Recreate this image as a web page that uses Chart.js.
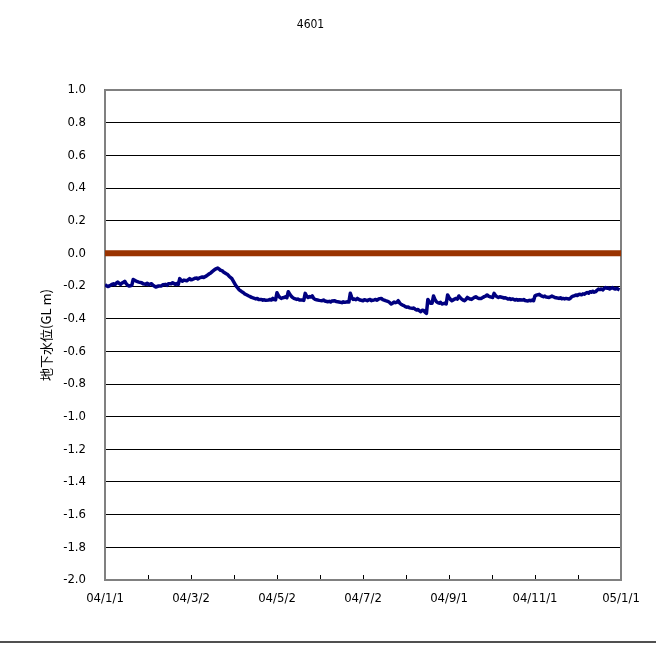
<!DOCTYPE html>
<html>
<head>
<meta charset="utf-8">
<script src="https://cdn.jsdelivr.net/npm/chart.js@4/dist/chart.umd.min.js"></script>
<style>
  html, body { margin: 0; padding: 0; background: #ffffff; }
  #wrap { width: 656px; height: 652px; }
</style>
</head>
<body>
<div id="wrap"><canvas id="c" width="656" height="652"></canvas></div>
<script>
// Well 4601 – groundwater level below ground surface, 2004
const chartTitle = '4601';
const yAxisTitle = '地下水位(GL m)';

// days counted from 2004-01-01
const obsDays = [
  0, 1, 2, 3, 4, 5, 6, 7, 8, 9,
  10, 11, 12, 13, 14, 15, 16, 17, 18, 19,
  20, 21, 22, 24, 26, 27, 29, 30, 31, 33,
  34, 36, 38, 40, 41, 43, 44, 45, 47, 48,
  50, 51, 52, 53, 54, 55, 56, 58, 60, 61,
  62, 64, 65, 66, 67, 69, 70, 72, 74, 75,
  76, 78, 79, 80, 81, 82, 83, 84, 86, 87,
  88, 90, 91, 92, 93, 94, 95, 97, 98, 99,
  100, 102, 103, 104, 106, 107, 108, 109, 111, 112,
  113, 114, 116, 117, 118, 119, 120, 121, 122, 123,
  124, 125, 126, 127, 128, 129, 130, 131, 132, 133,
  134, 136, 137, 138, 140, 141, 142, 143, 144, 145,
  146, 147, 148, 149, 150, 152, 154, 155, 156, 158,
  159, 160, 161, 163, 164, 166, 168, 169, 170, 172,
  173, 174, 175, 176, 177, 178, 179, 180, 181, 183,
  184, 186, 187, 188, 189, 190, 191, 192, 193, 194,
  196, 197, 198, 199, 200, 201, 202, 203, 204, 205,
  206, 207, 208, 209, 210, 211, 212, 213, 214, 215,
  216, 218, 219, 220, 221, 222, 223, 224, 225, 226,
  227, 228, 229, 230, 231, 232, 233, 234, 235, 236,
  237, 238, 239, 240, 241, 242, 243, 244, 245, 246,
  247, 248, 249, 250, 251, 252, 253, 254, 255, 256,
  257, 258, 259, 260, 261, 262, 263, 264, 265, 267,
  268, 269, 270, 271, 272, 273, 274, 275, 276, 277,
  278, 279, 280, 282, 283, 284, 286, 287, 288, 289,
  291, 292, 293, 294, 296, 297, 298, 300, 301, 302,
  303, 304, 305, 306, 307, 308, 309, 310, 311, 312,
  313, 315, 316, 317, 318, 319, 320, 322, 323, 324,
  325, 326, 327, 329, 330, 331, 332, 333, 334, 335,
  336, 337, 338, 339, 340, 341, 342, 343, 344, 345,
  346, 347, 348, 349, 350, 351, 352, 353, 354, 355,
  356, 357, 358, 359, 360, 361, 362, 363, 364, 365
];
// groundwater level (GL m)
const obsLevels = [
  -0.192, -0.198, -0.203, -0.200, -0.195, -0.190, -0.186, -0.192, -0.183, -0.176,
  -0.184, -0.190, -0.182, -0.178, -0.171, -0.185, -0.195, -0.200, -0.198, -0.196,
  -0.160, -0.165, -0.170, -0.176, -0.180, -0.186, -0.190, -0.183, -0.192, -0.186,
  -0.195, -0.206, -0.200, -0.200, -0.192, -0.190, -0.196, -0.186, -0.186, -0.180,
  -0.190, -0.185, -0.190, -0.155, -0.165, -0.171, -0.164, -0.168, -0.155, -0.162,
  -0.160, -0.152, -0.151, -0.157, -0.150, -0.145, -0.148, -0.138, -0.125, -0.120,
  -0.112, -0.098, -0.094, -0.090, -0.097, -0.104, -0.106, -0.114, -0.125, -0.130,
  -0.140, -0.155, -0.170, -0.185, -0.200, -0.210, -0.222, -0.235, -0.240, -0.248,
  -0.252, -0.261, -0.265, -0.270, -0.276, -0.279, -0.276, -0.283, -0.282, -0.287,
  -0.284, -0.288, -0.286, -0.282, -0.286, -0.276, -0.283, -0.285, -0.241, -0.258,
  -0.270, -0.276, -0.272, -0.270, -0.266, -0.272, -0.235, -0.250, -0.261, -0.270,
  -0.276, -0.282, -0.280, -0.286, -0.286, -0.288, -0.245, -0.262, -0.270, -0.265,
  -0.268, -0.261, -0.276, -0.282, -0.284, -0.288, -0.290, -0.286, -0.292, -0.296,
  -0.294, -0.298, -0.292, -0.290, -0.295, -0.298, -0.302, -0.297, -0.300, -0.296,
  -0.298, -0.245, -0.270, -0.282, -0.280, -0.284, -0.276, -0.282, -0.286, -0.290,
  -0.284, -0.290, -0.285, -0.282, -0.290, -0.287, -0.285, -0.282, -0.287, -0.280,
  -0.276, -0.283, -0.286, -0.290, -0.293, -0.296, -0.302, -0.310, -0.305, -0.298,
  -0.302, -0.300, -0.290, -0.304, -0.312, -0.317, -0.320, -0.326, -0.330, -0.328,
  -0.334, -0.337, -0.335, -0.342, -0.347, -0.344, -0.352, -0.357, -0.348, -0.350,
  -0.360, -0.367, -0.282, -0.296, -0.306, -0.305, -0.261, -0.282, -0.296, -0.302,
  -0.305, -0.300, -0.310, -0.308, -0.306, -0.310, -0.255, -0.270, -0.282, -0.290,
  -0.285, -0.280, -0.276, -0.280, -0.261, -0.272, -0.280, -0.286, -0.290, -0.282,
  -0.270, -0.276, -0.280, -0.282, -0.276, -0.270, -0.266, -0.272, -0.276, -0.276,
  -0.270, -0.265, -0.262, -0.255, -0.262, -0.266, -0.268, -0.270, -0.245, -0.258,
  -0.266, -0.270, -0.266, -0.270, -0.274, -0.272, -0.280, -0.277, -0.282, -0.279,
  -0.286, -0.282, -0.287, -0.284, -0.286, -0.283, -0.289, -0.292, -0.288, -0.290,
  -0.286, -0.290, -0.260, -0.256, -0.254, -0.251, -0.258, -0.262, -0.266, -0.262,
  -0.268, -0.270, -0.266, -0.262, -0.266, -0.270, -0.272, -0.276, -0.272, -0.278,
  -0.276, -0.279, -0.276, -0.280, -0.276, -0.266, -0.262, -0.260, -0.255, -0.258,
  -0.252, -0.251, -0.254, -0.248, -0.250, -0.245, -0.240, -0.244, -0.235, -0.238,
  -0.232, -0.238, -0.235, -0.226, -0.219, -0.222, -0.218, -0.224, -0.215, -0.210,
  -0.214, -0.212, -0.218, -0.214, -0.210, -0.216, -0.219, -0.214, -0.220, -0.224
];

// ground surface reference level
const refDays = [0, 366];
const refLevels = [0, 0];

const xTickLabels = ['04/1/1', '', '04/3/2', '', '04/5/2', '', '04/7/2', '', '04/9/1', '', '04/11/1', '', '05/1/1'];
const yTickLabels = ['-2.0', '-1.8', '-1.6', '-1.4', '-1.2', '-1.0', '-0.8', '-0.6', '-0.4', '-0.2',
                     '0.0', '0.2', '0.4', '0.6', '0.8', '1.0'];

const tickFont = { family: "'DejaVu Sans Condensed', 'DejaVu Sans', sans-serif", size: 13 };

// white page, grey plot frame and the rule under the chart
const framePlugin = {
  id: 'frame',
  beforeDraw(chart) {
    const ctx = chart.ctx;
    ctx.save();
    ctx.fillStyle = '#ffffff';
    ctx.fillRect(0, 0, chart.width, chart.height);
    ctx.restore();
  },
  beforeDatasetsDraw(chart) {
    const { ctx, chartArea: a } = chart;
    ctx.save();
    ctx.strokeStyle = '#808080';
    ctx.lineWidth = 2;
    ctx.strokeRect(a.left, a.top, a.right - a.left, a.bottom - a.top);
    ctx.restore();
  },
  afterDraw(chart) {
    const ctx = chart.ctx;
    ctx.save();
    ctx.fillStyle = '#505050';
    ctx.fillRect(0, 641, chart.width, 2);
    ctx.restore();
  }
};

new Chart(document.getElementById('c'), {
  type: 'line',
  data: {
    datasets: [
      {
        label: 'GL',
        data: refDays.map((d, i) => ({ x: d, y: refLevels[i] })),
        borderColor: '#993300',
        borderWidth: 6,
        pointRadius: 0,
        tension: 0,
        order: 2
      },
      {
        label: yAxisTitle,
        data: obsDays.map((d, i) => ({ x: d, y: obsLevels[i] })),
        borderColor: '#000080',
        borderWidth: 3.5,
        pointRadius: 0,
        tension: 0,
        borderJoinStyle: 'round',
        order: 1
      }
    ]
  },
  options: {
    responsive: false,
    animation: false,
    events: [],
    layout: { padding: { left: 0, right: 35, top: 0, bottom: 0 } },
    plugins: {
      legend: { display: false },
      tooltip: { enabled: false },
      title: {
        display: true,
        text: chartTitle,
        color: '#000000',
        font: { family: tickFont.family, size: 12, weight: 'normal', lineHeight: 1.2 },
        padding: { top: 18, bottom: 57.6 }
      }
    },
    scales: {
      x: {
        type: 'linear',
        min: 0,
        max: 366,
        border: { display: false },
        grid: {
          display: true,
          drawOnChartArea: false,
          drawTicks: true,
          tickLength: -5,
          color: '#000000',
          lineWidth: 1
        },
        ticks: {
          stepSize: 30.5,
          autoSkip: false,
          maxRotation: 0,
          minRotation: 0,
          padding: 16,
          color: '#000000',
          font: tickFont,
          callback: (v, i) => xTickLabels[i]
        },
        afterFit(scale) { scale.height = 72; }
      },
      y: {
        type: 'linear',
        min: -2,
        max: 1,
        border: { display: false },
        grid: {
          color: '#000000',
          lineWidth: 1,
          drawTicks: false
        },
        ticks: {
          stepSize: 0.2,
          autoSkip: false,
          padding: 19,
          color: '#000000',
          font: tickFont,
          callback: (v, i) => yTickLabels[i]
        },
        title: {
          display: true,
          text: yAxisTitle,
          color: '#000000',
          font: { family: "'Noto Sans CJK JP', sans-serif", size: 13, lineHeight: 1.2 },
          padding: { top: 38, bottom: 0 }
        },
        afterFit(scale) { scale.width = 105; }
      }
    }
  },
  plugins: [framePlugin]
});
</script>
</body>
</html>
